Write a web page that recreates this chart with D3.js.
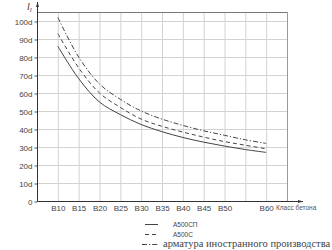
<!DOCTYPE html>
<html>
<head>
<meta charset="utf-8">
<script src="https://cdn.jsdelivr.net/npm/d3@7"></script>
<style>
  body { margin: 0; background: #fff; }
  svg { display: block; }
  text { font-family: 'Liberation Sans', Arial, sans-serif; fill: #333; }
</style>
</head>
<body>
<svg id="chart" width="332" height="250"></svg>
<script>
// concrete classes (В10 ... В60)
const classes = [10, 15, 20, 25, 30, 35, 40, 45, 50, 55, 60]
const classLabels = ['В10', 'В15', 'В20', 'В25', 'В30', 'В35', 'В40', 'В45', 'В50', '', 'В60']

// anchorage length, in d
const a500sp = [86, 68, 55, 48, 42.5, 38.5, 35.3, 32.7, 30.5, 28.6, 27]
const a500s = [93, 74, 60, 52, 45.5, 41.5, 38.3, 35.5, 33, 31, 29]
const foreign = [102, 80, 65, 56.5, 50, 45.5, 42, 39, 36.5, 34, 32]

const yTicks = [0, 10, 20, 30, 40, 50, 60, 70, 80, 90, 100]
const seriesNames = ['А500СП', 'А500С', 'арматура иностранного производства']

const series = [
  { name: seriesNames[0], values: a500sp, dash: null },
  { name: seriesNames[1], values: a500s, dash: '4,3' },
  { name: seriesNames[2], values: foreign, dash: '5,2,1.2,2' }
]

const svg = d3.select('#chart')

let x = d3.scaleLinear().domain([5, 65]).range([37, 287]),
  y = d3.scaleLinear().domain([0, 105]).range([201, 12])

let grid = svg.append('g').attr('class', 'grid')

// vertical grid
grid.selectAll('line.v')
  .data(classes.concat([65]))
  .enter().append('line')
    .attr('class', 'v')
    .attr('x1', d => x(d) + 0.5)
    .attr('x2', d => x(d) + 0.5)
    .attr('y1', y(105))
    .attr('y2', y(0))
    .style('stroke', (d) => d === 65 ? '#999' : '#d2d2d2')
    .style('stroke-width', 1)

// horizontal grid
grid.selectAll('line.h')
  .data(yTicks.slice(1).concat([105]))
  .enter().append('line')
    .attr('class', 'h')
    .attr('x1', x(5))
    .attr('x2', x(65))
    .attr('y1', d => y(d) + 0.5)
    .attr('y2', d => y(d) + 0.5)
    .style('stroke', (d) => d === 105 ? '#777' : '#d2d2d2')
    .style('stroke-width', 1)

// y axis
let yAxis = d3.axisLeft(y)
  .tickValues(yTicks)
  .tickSize(3)
  .tickPadding(2)
  .tickFormat(d => d === 0 ? '0' : d + 'd')

let gy = svg.append('g')
  .attr('transform', `translate(${ x(5) + 0.5 },0.5)`)
  .call(yAxis)

gy.select('.domain').remove()
gy.selectAll('.tick line').style('stroke', '#555')
gy.selectAll('.tick text')
  .style('font-size', '8px')
  .style('fill', '#444')
  .style('font-family', "'Liberation Sans', Arial, sans-serif")

// x axis labels
let xAxis = d3.axisBottom(x)
  .tickValues(classes)
  .tickSize(0)
  .tickPadding(4)
  .tickFormat((d, i) => classLabels[i])

let gx = svg.append('g')
  .attr('transform', `translate(0,${ y(0) + 0.5 })`)
  .call(xAxis)

gx.select('.domain').remove()
gx.selectAll('.tick text')
  .style('font-size', '8px')
  .style('fill', '#444')
  .style('font-family', "'Liberation Sans', Arial, sans-serif")

// axis lines with arrows
svg.append('defs').append('marker')
    .attr('id', 'arrow')
    .attr('viewBox', '0 0 10 10')
    .attr('refX', 10)
    .attr('refY', 5)
    .attr('markerWidth', 7)
    .attr('markerHeight', 5)
    .attr('orient', 'auto')
  .append('path')
    .attr('d', 'M0,2L10,5L0,8Z')
    .style('fill', '#333')

svg.append('line')
  .attr('x1', x(5) + 0.5).attr('x2', 303)
  .attr('y1', y(0) + 0.5).attr('y2', y(0) + 0.5)
  .style('stroke', '#333')
  .attr('marker-end', 'url(#arrow)')

svg.append('line')
  .attr('x1', x(5) + 0.5).attr('x2', x(5) + 0.5)
  .attr('y1', y(0) + 0.5).attr('y2', 2)
  .style('stroke', '#333')
  .attr('marker-end', 'url(#arrow)')

// axis titles
let yt = svg.append('text')
  .attr('x', 27)
  .attr('y', 10)
  .style('font-family', "'Liberation Serif', 'Times New Roman', serif")
  .style('font-style', 'italic')
  .style('font-size', '10px')
  .style('fill', '#333')
yt.append('tspan').text('l')
yt.append('tspan').attr('dy', 2).style('font-size', '7px').text('l')

svg.append('text')
  .attr('x', 276)
  .attr('y', 210)
  .style('font-size', '6.5px')
  .style('fill', '#555')
  .text('Класс бетона')

// curves
let line = d3.line()
  .x((d, i) => x(classes[i]))
  .y(d => y(d))
  .curve(d3.curveCatmullRom.alpha(0.5))

svg.selectAll('path.curve')
  .data(series)
  .enter().append('path')
    .attr('class', 'curve')
    .attr('d', d => line(d.values))
    .style('fill', 'none')
    .style('stroke', '#444')
    .style('stroke-width', 1)
    .style('stroke-dasharray', d => d.dash)

// legend
let legendRows = [
  { y: 224, x1: 145, x2: 158, tx: 173, font: "'Liberation Sans', Arial, sans-serif", size: '6.5px' },
  { y: 234, x1: 145, x2: 158, tx: 173, font: "'Liberation Sans', Arial, sans-serif", size: '6.5px' },
  { y: 244, x1: 142, x2: 159, tx: 163, font: "'Liberation Serif', 'Times New Roman', serif", size: '10.5px' }
]

let legend = svg.selectAll('g.legend')
  .data(series)
  .enter().append('g')
    .attr('class', 'legend')

legend.append('line')
  .attr('x1', (d, i) => legendRows[i].x1)
  .attr('x2', (d, i) => legendRows[i].x2)
  .attr('y1', (d, i) => legendRows[i].y + 0.5)
  .attr('y2', (d, i) => legendRows[i].y + 0.5)
  .style('stroke', '#444')
  .style('stroke-dasharray', d => d.dash)

legend.append('text')
  .attr('x', (d, i) => legendRows[i].tx)
  .attr('y', (d, i) => legendRows[i].y + 2.5)
  .style('font-family', (d, i) => legendRows[i].font)
  .style('font-size', (d, i) => legendRows[i].size)
  .style('fill', '#444')
  .text(d => d.name)
</script>
</body>
</html>
